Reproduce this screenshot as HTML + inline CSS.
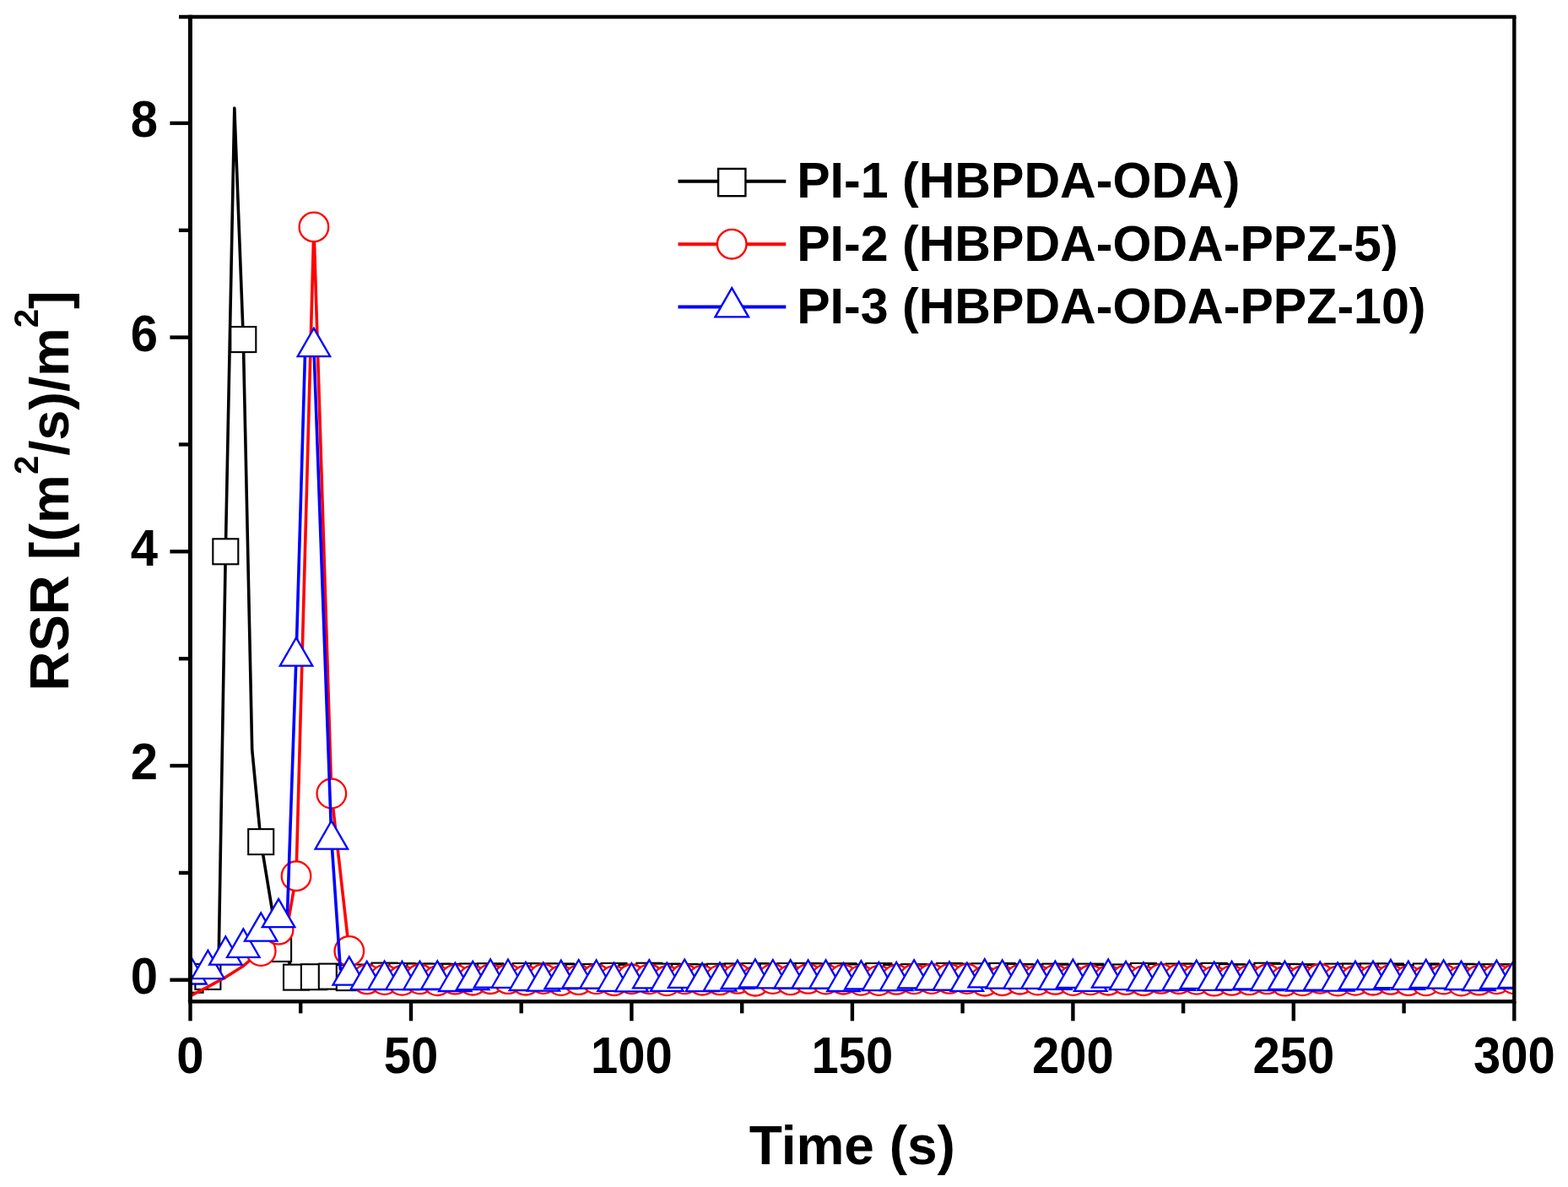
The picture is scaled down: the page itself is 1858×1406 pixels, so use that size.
<!DOCTYPE html>
<html><head><meta charset="utf-8"><title>RSR vs Time</title>
<style>
html,body{margin:0;padding:0;background:#fff;}
svg{display:block;}
</style></head>
<body>
<svg width="1858" height="1406" viewBox="0 0 1858 1406">
<defs><clipPath id="plotclip"><rect x="225.4" y="20.0" width="1568.9" height="1166.3"/></clipPath></defs>
<g>
<rect x="0" y="0" width="1858" height="1406" fill="#fff"/>
<g clip-path="url(#plotclip)">
<polyline points="225.5,1160.7 236.0,1160.7 246.4,1156.9 259.0,1145.5 267.3,653.3 277.8,128.1 288.3,402.1 298.7,888.0 309.2,997.1 319.6,1060.5 330.1,1123.9 340.5,1135.3 351.0,1157.6 361.5,1156.8 371.9,1157.2 382.4,1156.6 392.8,1156.6 403.3,1158.0 413.8,1158.1 424.2,1156.0 434.7,1157.5 445.1,1157.6 455.6,1155.6 466.0,1157.0 476.5,1156.0 487.0,1157.0 497.4,1156.5 507.9,1157.8 518.3,1156.6 528.8,1156.0 539.3,1156.8 549.7,1156.3 560.2,1156.5 570.6,1158.0 581.1,1156.2 591.6,1156.7 602.0,1157.4 612.5,1158.1 622.9,1156.0 633.4,1157.0 643.8,1156.3 654.3,1155.9 664.8,1156.4 675.2,1155.8 685.7,1157.2 696.1,1156.1 706.6,1157.0 717.1,1155.8 727.5,1155.9 738.0,1157.9 748.4,1157.8 758.9,1157.6 769.3,1155.7 779.8,1157.1 790.3,1156.6 800.7,1157.4 811.2,1156.9 821.6,1157.2 832.1,1157.3 842.6,1156.7 853.0,1156.7 863.5,1155.9 873.9,1156.4 884.4,1155.8 894.9,1156.0 905.3,1155.6 915.8,1156.5 926.2,1157.7 936.7,1156.0 947.1,1155.7 957.6,1155.9 968.1,1156.7 978.5,1156.4 989.0,1157.6 999.4,1156.1 1009.9,1156.7 1020.4,1157.4 1030.8,1158.0 1041.3,1156.0 1051.7,1155.7 1062.2,1157.9 1072.6,1156.1 1083.1,1157.1 1093.6,1157.8 1104.0,1157.4 1114.5,1156.2 1124.9,1155.9 1135.4,1158.1 1145.9,1156.6 1156.3,1158.0 1166.8,1156.3 1177.2,1157.3 1187.7,1155.9 1198.1,1155.7 1208.6,1156.9 1219.1,1155.6 1229.5,1157.4 1240.0,1158.0 1250.4,1156.6 1260.9,1158.1 1271.4,1157.7 1281.8,1157.1 1292.3,1156.6 1302.7,1157.8 1313.2,1158.1 1323.7,1156.0 1334.1,1157.4 1344.6,1155.7 1355.0,1155.9 1365.5,1157.2 1375.9,1157.0 1386.4,1156.8 1396.9,1156.5 1407.3,1156.7 1417.8,1156.7 1428.2,1156.6 1438.7,1155.8 1449.2,1156.9 1459.6,1157.1 1470.1,1156.3 1480.5,1157.6 1491.0,1157.4 1501.4,1155.7 1511.9,1156.8 1522.4,1156.8 1532.8,1158.1 1543.3,1157.1 1553.7,1156.7 1564.2,1158.1 1574.7,1156.6 1585.1,1156.6 1595.6,1158.0 1606.0,1156.6 1616.5,1157.0 1627.0,1156.4 1637.4,1157.3 1647.9,1156.4 1658.3,1156.3 1668.8,1158.1 1679.2,1158.0 1689.7,1156.4 1700.2,1155.7 1710.6,1157.5 1721.1,1157.0 1731.5,1156.7 1742.0,1157.4 1752.5,1157.2 1762.9,1157.4 1773.4,1157.2 1783.8,1156.7 1794.3,1157.4" fill="none" stroke="#000" stroke-width="3.6" stroke-linejoin="round"/>
<rect x="210.5" y="1145.7" width="30.0" height="30.0" fill="#fff" stroke="#000" stroke-width="2.1"/>
<rect x="231.4" y="1141.9" width="30.0" height="30.0" fill="#fff" stroke="#000" stroke-width="2.1"/>
<rect x="252.3" y="638.3" width="30.0" height="30.0" fill="#fff" stroke="#000" stroke-width="2.1"/>
<rect x="273.3" y="387.1" width="30.0" height="30.0" fill="#fff" stroke="#000" stroke-width="2.1"/>
<rect x="294.2" y="982.1" width="30.0" height="30.0" fill="#fff" stroke="#000" stroke-width="2.1"/>
<rect x="315.1" y="1108.9" width="30.0" height="30.0" fill="#fff" stroke="#000" stroke-width="2.1"/>
<rect x="336.0" y="1142.6" width="30.0" height="30.0" fill="#fff" stroke="#000" stroke-width="2.1"/>
<rect x="356.9" y="1142.2" width="30.0" height="30.0" fill="#fff" stroke="#000" stroke-width="2.1"/>
<rect x="377.8" y="1141.6" width="30.0" height="30.0" fill="#fff" stroke="#000" stroke-width="2.1"/>
<rect x="398.8" y="1143.1" width="30.0" height="30.0" fill="#fff" stroke="#000" stroke-width="2.1"/>
<rect x="419.7" y="1142.5" width="30.0" height="30.0" fill="#fff" stroke="#000" stroke-width="2.1"/>
<rect x="440.6" y="1140.6" width="30.0" height="30.0" fill="#fff" stroke="#000" stroke-width="2.1"/>
<rect x="461.5" y="1141.0" width="30.0" height="30.0" fill="#fff" stroke="#000" stroke-width="2.1"/>
<rect x="482.4" y="1141.5" width="30.0" height="30.0" fill="#fff" stroke="#000" stroke-width="2.1"/>
<rect x="503.3" y="1141.6" width="30.0" height="30.0" fill="#fff" stroke="#000" stroke-width="2.1"/>
<rect x="524.3" y="1141.8" width="30.0" height="30.0" fill="#fff" stroke="#000" stroke-width="2.1"/>
<rect x="545.2" y="1141.5" width="30.0" height="30.0" fill="#fff" stroke="#000" stroke-width="2.1"/>
<rect x="566.1" y="1141.2" width="30.0" height="30.0" fill="#fff" stroke="#000" stroke-width="2.1"/>
<rect x="587.0" y="1142.4" width="30.0" height="30.0" fill="#fff" stroke="#000" stroke-width="2.1"/>
<rect x="607.9" y="1141.0" width="30.0" height="30.0" fill="#fff" stroke="#000" stroke-width="2.1"/>
<rect x="628.8" y="1141.3" width="30.0" height="30.0" fill="#fff" stroke="#000" stroke-width="2.1"/>
<rect x="649.8" y="1141.4" width="30.0" height="30.0" fill="#fff" stroke="#000" stroke-width="2.1"/>
<rect x="670.7" y="1142.2" width="30.0" height="30.0" fill="#fff" stroke="#000" stroke-width="2.1"/>
<rect x="691.6" y="1142.0" width="30.0" height="30.0" fill="#fff" stroke="#000" stroke-width="2.1"/>
<rect x="712.5" y="1140.9" width="30.0" height="30.0" fill="#fff" stroke="#000" stroke-width="2.1"/>
<rect x="733.4" y="1142.8" width="30.0" height="30.0" fill="#fff" stroke="#000" stroke-width="2.1"/>
<rect x="754.3" y="1140.7" width="30.0" height="30.0" fill="#fff" stroke="#000" stroke-width="2.1"/>
<rect x="775.3" y="1141.6" width="30.0" height="30.0" fill="#fff" stroke="#000" stroke-width="2.1"/>
<rect x="796.2" y="1141.9" width="30.0" height="30.0" fill="#fff" stroke="#000" stroke-width="2.1"/>
<rect x="817.1" y="1142.3" width="30.0" height="30.0" fill="#fff" stroke="#000" stroke-width="2.1"/>
<rect x="838.0" y="1141.7" width="30.0" height="30.0" fill="#fff" stroke="#000" stroke-width="2.1"/>
<rect x="858.9" y="1141.4" width="30.0" height="30.0" fill="#fff" stroke="#000" stroke-width="2.1"/>
<rect x="879.9" y="1141.0" width="30.0" height="30.0" fill="#fff" stroke="#000" stroke-width="2.1"/>
<rect x="900.8" y="1141.5" width="30.0" height="30.0" fill="#fff" stroke="#000" stroke-width="2.1"/>
<rect x="921.7" y="1141.0" width="30.0" height="30.0" fill="#fff" stroke="#000" stroke-width="2.1"/>
<rect x="942.6" y="1140.9" width="30.0" height="30.0" fill="#fff" stroke="#000" stroke-width="2.1"/>
<rect x="963.5" y="1141.4" width="30.0" height="30.0" fill="#fff" stroke="#000" stroke-width="2.1"/>
<rect x="984.4" y="1141.1" width="30.0" height="30.0" fill="#fff" stroke="#000" stroke-width="2.1"/>
<rect x="1005.4" y="1142.4" width="30.0" height="30.0" fill="#fff" stroke="#000" stroke-width="2.1"/>
<rect x="1026.3" y="1141.0" width="30.0" height="30.0" fill="#fff" stroke="#000" stroke-width="2.1"/>
<rect x="1047.2" y="1142.9" width="30.0" height="30.0" fill="#fff" stroke="#000" stroke-width="2.1"/>
<rect x="1068.1" y="1142.1" width="30.0" height="30.0" fill="#fff" stroke="#000" stroke-width="2.1"/>
<rect x="1089.0" y="1142.4" width="30.0" height="30.0" fill="#fff" stroke="#000" stroke-width="2.1"/>
<rect x="1109.9" y="1140.9" width="30.0" height="30.0" fill="#fff" stroke="#000" stroke-width="2.1"/>
<rect x="1130.9" y="1141.6" width="30.0" height="30.0" fill="#fff" stroke="#000" stroke-width="2.1"/>
<rect x="1151.8" y="1141.3" width="30.0" height="30.0" fill="#fff" stroke="#000" stroke-width="2.1"/>
<rect x="1172.7" y="1140.9" width="30.0" height="30.0" fill="#fff" stroke="#000" stroke-width="2.1"/>
<rect x="1193.6" y="1141.9" width="30.0" height="30.0" fill="#fff" stroke="#000" stroke-width="2.1"/>
<rect x="1214.5" y="1142.4" width="30.0" height="30.0" fill="#fff" stroke="#000" stroke-width="2.1"/>
<rect x="1235.4" y="1141.6" width="30.0" height="30.0" fill="#fff" stroke="#000" stroke-width="2.1"/>
<rect x="1256.4" y="1142.7" width="30.0" height="30.0" fill="#fff" stroke="#000" stroke-width="2.1"/>
<rect x="1277.3" y="1141.6" width="30.0" height="30.0" fill="#fff" stroke="#000" stroke-width="2.1"/>
<rect x="1298.2" y="1143.1" width="30.0" height="30.0" fill="#fff" stroke="#000" stroke-width="2.1"/>
<rect x="1319.1" y="1142.4" width="30.0" height="30.0" fill="#fff" stroke="#000" stroke-width="2.1"/>
<rect x="1340.0" y="1140.9" width="30.0" height="30.0" fill="#fff" stroke="#000" stroke-width="2.1"/>
<rect x="1360.9" y="1142.0" width="30.0" height="30.0" fill="#fff" stroke="#000" stroke-width="2.1"/>
<rect x="1381.9" y="1141.5" width="30.0" height="30.0" fill="#fff" stroke="#000" stroke-width="2.1"/>
<rect x="1402.8" y="1141.7" width="30.0" height="30.0" fill="#fff" stroke="#000" stroke-width="2.1"/>
<rect x="1423.7" y="1140.8" width="30.0" height="30.0" fill="#fff" stroke="#000" stroke-width="2.1"/>
<rect x="1444.6" y="1142.1" width="30.0" height="30.0" fill="#fff" stroke="#000" stroke-width="2.1"/>
<rect x="1465.5" y="1142.6" width="30.0" height="30.0" fill="#fff" stroke="#000" stroke-width="2.1"/>
<rect x="1486.4" y="1140.7" width="30.0" height="30.0" fill="#fff" stroke="#000" stroke-width="2.1"/>
<rect x="1507.4" y="1141.8" width="30.0" height="30.0" fill="#fff" stroke="#000" stroke-width="2.1"/>
<rect x="1528.3" y="1142.1" width="30.0" height="30.0" fill="#fff" stroke="#000" stroke-width="2.1"/>
<rect x="1549.2" y="1143.1" width="30.0" height="30.0" fill="#fff" stroke="#000" stroke-width="2.1"/>
<rect x="1570.1" y="1141.6" width="30.0" height="30.0" fill="#fff" stroke="#000" stroke-width="2.1"/>
<rect x="1591.0" y="1141.6" width="30.0" height="30.0" fill="#fff" stroke="#000" stroke-width="2.1"/>
<rect x="1612.0" y="1141.4" width="30.0" height="30.0" fill="#fff" stroke="#000" stroke-width="2.1"/>
<rect x="1632.9" y="1141.4" width="30.0" height="30.0" fill="#fff" stroke="#000" stroke-width="2.1"/>
<rect x="1653.8" y="1143.1" width="30.0" height="30.0" fill="#fff" stroke="#000" stroke-width="2.1"/>
<rect x="1674.7" y="1141.4" width="30.0" height="30.0" fill="#fff" stroke="#000" stroke-width="2.1"/>
<rect x="1695.6" y="1142.5" width="30.0" height="30.0" fill="#fff" stroke="#000" stroke-width="2.1"/>
<rect x="1716.5" y="1141.7" width="30.0" height="30.0" fill="#fff" stroke="#000" stroke-width="2.1"/>
<rect x="1737.5" y="1142.2" width="30.0" height="30.0" fill="#fff" stroke="#000" stroke-width="2.1"/>
<rect x="1758.4" y="1142.2" width="30.0" height="30.0" fill="#fff" stroke="#000" stroke-width="2.1"/>
<rect x="1779.3" y="1142.4" width="30.0" height="30.0" fill="#fff" stroke="#000" stroke-width="2.1"/>
<polyline points="225.5,1179.7 246.4,1168.9 267.3,1157.5 288.3,1144.2 309.2,1126.5 330.1,1101.1 340.5,1097.3 351.0,1037.7 371.9,268.9 392.8,940.0 413.8,1126.5 424.2,1161.1 434.7,1159.9 445.1,1162.1 455.6,1160.5 466.0,1160.0 476.5,1161.3 487.0,1161.5 497.4,1159.8 507.9,1161.5 518.3,1161.7 528.8,1160.9 539.3,1160.1 549.7,1161.9 560.2,1161.2 570.6,1161.2 581.1,1159.7 591.6,1160.9 602.0,1159.6 612.5,1161.7 622.9,1161.2 633.4,1160.2 643.8,1159.5 654.3,1160.8 664.8,1161.5 675.2,1161.9 685.7,1160.6 696.1,1161.6 706.6,1159.8 717.1,1159.7 727.5,1161.7 738.0,1161.4 748.4,1159.8 758.9,1160.3 769.3,1159.8 779.8,1161.2 790.3,1161.8 800.7,1161.3 811.2,1159.8 821.6,1161.4 832.1,1161.2 842.6,1161.0 853.0,1160.9 863.5,1161.0 873.9,1159.4 884.4,1161.7 894.9,1162.2 905.3,1159.4 915.8,1159.5 926.2,1159.2 936.7,1160.9 947.1,1159.3 957.6,1159.4 968.1,1161.5 978.5,1160.0 989.0,1159.7 999.4,1160.2 1009.9,1160.6 1020.4,1161.3 1030.8,1161.2 1041.3,1161.5 1051.7,1162.0 1062.2,1160.4 1072.6,1161.3 1083.1,1159.8 1093.6,1162.1 1104.0,1159.5 1114.5,1160.1 1124.9,1159.4 1135.4,1159.5 1145.9,1159.5 1156.3,1160.5 1166.8,1162.2 1177.2,1160.0 1187.7,1161.7 1198.1,1161.3 1208.6,1160.2 1219.1,1160.6 1229.5,1161.0 1240.0,1159.4 1250.4,1160.4 1260.9,1161.2 1271.4,1161.5 1281.8,1159.6 1292.3,1160.8 1302.7,1159.8 1313.2,1161.2 1323.7,1161.6 1334.1,1160.6 1344.6,1159.7 1355.0,1161.7 1365.5,1159.8 1375.9,1159.4 1386.4,1159.8 1396.9,1159.7 1407.3,1162.2 1417.8,1160.3 1428.2,1159.6 1438.7,1162.1 1449.2,1161.4 1459.6,1161.4 1470.1,1160.6 1480.5,1160.9 1491.0,1160.8 1501.4,1159.9 1511.9,1162.2 1522.4,1162.1 1532.8,1161.8 1543.3,1161.8 1553.7,1162.0 1564.2,1159.3 1574.7,1159.6 1585.1,1162.0 1595.6,1160.7 1606.0,1161.3 1616.5,1161.3 1627.0,1161.2 1637.4,1160.3 1647.9,1160.4 1658.3,1161.1 1668.8,1161.6 1679.2,1161.2 1689.7,1161.8 1700.2,1160.5 1710.6,1160.0 1721.1,1161.1 1731.5,1162.0 1742.0,1161.7 1752.5,1161.1 1762.9,1160.4 1773.4,1159.8 1783.8,1161.1 1794.3,1159.8" fill="none" stroke="#f00" stroke-width="3.6" stroke-linejoin="round"/>
<circle cx="309.2" cy="1126.5" r="17.3" fill="#fff" stroke="#f00" stroke-width="2.3"/>
<circle cx="330.1" cy="1101.1" r="17.3" fill="#fff" stroke="#f00" stroke-width="2.3"/>
<circle cx="351.0" cy="1037.7" r="17.3" fill="#fff" stroke="#f00" stroke-width="2.3"/>
<circle cx="371.9" cy="268.9" r="17.3" fill="#fff" stroke="#f00" stroke-width="2.3"/>
<circle cx="392.8" cy="940.0" r="17.3" fill="#fff" stroke="#f00" stroke-width="2.3"/>
<circle cx="413.8" cy="1126.5" r="17.3" fill="#fff" stroke="#f00" stroke-width="2.3"/>
<circle cx="434.7" cy="1159.9" r="17.3" fill="#fff" stroke="#f00" stroke-width="2.3"/>
<circle cx="455.6" cy="1160.5" r="17.3" fill="#fff" stroke="#f00" stroke-width="2.3"/>
<circle cx="476.5" cy="1161.3" r="17.3" fill="#fff" stroke="#f00" stroke-width="2.3"/>
<circle cx="497.4" cy="1159.8" r="17.3" fill="#fff" stroke="#f00" stroke-width="2.3"/>
<circle cx="518.3" cy="1161.7" r="17.3" fill="#fff" stroke="#f00" stroke-width="2.3"/>
<circle cx="539.3" cy="1160.1" r="17.3" fill="#fff" stroke="#f00" stroke-width="2.3"/>
<circle cx="560.2" cy="1161.2" r="17.3" fill="#fff" stroke="#f00" stroke-width="2.3"/>
<circle cx="581.1" cy="1159.7" r="17.3" fill="#fff" stroke="#f00" stroke-width="2.3"/>
<circle cx="602.0" cy="1159.6" r="17.3" fill="#fff" stroke="#f00" stroke-width="2.3"/>
<circle cx="622.9" cy="1161.2" r="17.3" fill="#fff" stroke="#f00" stroke-width="2.3"/>
<circle cx="643.8" cy="1159.5" r="17.3" fill="#fff" stroke="#f00" stroke-width="2.3"/>
<circle cx="664.8" cy="1161.5" r="17.3" fill="#fff" stroke="#f00" stroke-width="2.3"/>
<circle cx="685.7" cy="1160.6" r="17.3" fill="#fff" stroke="#f00" stroke-width="2.3"/>
<circle cx="706.6" cy="1159.8" r="17.3" fill="#fff" stroke="#f00" stroke-width="2.3"/>
<circle cx="727.5" cy="1161.7" r="17.3" fill="#fff" stroke="#f00" stroke-width="2.3"/>
<circle cx="748.4" cy="1159.8" r="17.3" fill="#fff" stroke="#f00" stroke-width="2.3"/>
<circle cx="769.3" cy="1159.8" r="17.3" fill="#fff" stroke="#f00" stroke-width="2.3"/>
<circle cx="790.3" cy="1161.8" r="17.3" fill="#fff" stroke="#f00" stroke-width="2.3"/>
<circle cx="811.2" cy="1159.8" r="17.3" fill="#fff" stroke="#f00" stroke-width="2.3"/>
<circle cx="832.1" cy="1161.2" r="17.3" fill="#fff" stroke="#f00" stroke-width="2.3"/>
<circle cx="853.0" cy="1160.9" r="17.3" fill="#fff" stroke="#f00" stroke-width="2.3"/>
<circle cx="873.9" cy="1159.4" r="17.3" fill="#fff" stroke="#f00" stroke-width="2.3"/>
<circle cx="894.9" cy="1162.2" r="17.3" fill="#fff" stroke="#f00" stroke-width="2.3"/>
<circle cx="915.8" cy="1159.5" r="17.3" fill="#fff" stroke="#f00" stroke-width="2.3"/>
<circle cx="936.7" cy="1160.9" r="17.3" fill="#fff" stroke="#f00" stroke-width="2.3"/>
<circle cx="957.6" cy="1159.4" r="17.3" fill="#fff" stroke="#f00" stroke-width="2.3"/>
<circle cx="978.5" cy="1160.0" r="17.3" fill="#fff" stroke="#f00" stroke-width="2.3"/>
<circle cx="999.4" cy="1160.2" r="17.3" fill="#fff" stroke="#f00" stroke-width="2.3"/>
<circle cx="1020.4" cy="1161.3" r="17.3" fill="#fff" stroke="#f00" stroke-width="2.3"/>
<circle cx="1041.3" cy="1161.5" r="17.3" fill="#fff" stroke="#f00" stroke-width="2.3"/>
<circle cx="1062.2" cy="1160.4" r="17.3" fill="#fff" stroke="#f00" stroke-width="2.3"/>
<circle cx="1083.1" cy="1159.8" r="17.3" fill="#fff" stroke="#f00" stroke-width="2.3"/>
<circle cx="1104.0" cy="1159.5" r="17.3" fill="#fff" stroke="#f00" stroke-width="2.3"/>
<circle cx="1124.9" cy="1159.4" r="17.3" fill="#fff" stroke="#f00" stroke-width="2.3"/>
<circle cx="1145.9" cy="1159.5" r="17.3" fill="#fff" stroke="#f00" stroke-width="2.3"/>
<circle cx="1166.8" cy="1162.2" r="17.3" fill="#fff" stroke="#f00" stroke-width="2.3"/>
<circle cx="1187.7" cy="1161.7" r="17.3" fill="#fff" stroke="#f00" stroke-width="2.3"/>
<circle cx="1208.6" cy="1160.2" r="17.3" fill="#fff" stroke="#f00" stroke-width="2.3"/>
<circle cx="1229.5" cy="1161.0" r="17.3" fill="#fff" stroke="#f00" stroke-width="2.3"/>
<circle cx="1250.4" cy="1160.4" r="17.3" fill="#fff" stroke="#f00" stroke-width="2.3"/>
<circle cx="1271.4" cy="1161.5" r="17.3" fill="#fff" stroke="#f00" stroke-width="2.3"/>
<circle cx="1292.3" cy="1160.8" r="17.3" fill="#fff" stroke="#f00" stroke-width="2.3"/>
<circle cx="1313.2" cy="1161.2" r="17.3" fill="#fff" stroke="#f00" stroke-width="2.3"/>
<circle cx="1334.1" cy="1160.6" r="17.3" fill="#fff" stroke="#f00" stroke-width="2.3"/>
<circle cx="1355.0" cy="1161.7" r="17.3" fill="#fff" stroke="#f00" stroke-width="2.3"/>
<circle cx="1375.9" cy="1159.4" r="17.3" fill="#fff" stroke="#f00" stroke-width="2.3"/>
<circle cx="1396.9" cy="1159.7" r="17.3" fill="#fff" stroke="#f00" stroke-width="2.3"/>
<circle cx="1417.8" cy="1160.3" r="17.3" fill="#fff" stroke="#f00" stroke-width="2.3"/>
<circle cx="1438.7" cy="1162.1" r="17.3" fill="#fff" stroke="#f00" stroke-width="2.3"/>
<circle cx="1459.6" cy="1161.4" r="17.3" fill="#fff" stroke="#f00" stroke-width="2.3"/>
<circle cx="1480.5" cy="1160.9" r="17.3" fill="#fff" stroke="#f00" stroke-width="2.3"/>
<circle cx="1501.4" cy="1159.9" r="17.3" fill="#fff" stroke="#f00" stroke-width="2.3"/>
<circle cx="1522.4" cy="1162.1" r="17.3" fill="#fff" stroke="#f00" stroke-width="2.3"/>
<circle cx="1543.3" cy="1161.8" r="17.3" fill="#fff" stroke="#f00" stroke-width="2.3"/>
<circle cx="1564.2" cy="1159.3" r="17.3" fill="#fff" stroke="#f00" stroke-width="2.3"/>
<circle cx="1585.1" cy="1162.0" r="17.3" fill="#fff" stroke="#f00" stroke-width="2.3"/>
<circle cx="1606.0" cy="1161.3" r="17.3" fill="#fff" stroke="#f00" stroke-width="2.3"/>
<circle cx="1627.0" cy="1161.2" r="17.3" fill="#fff" stroke="#f00" stroke-width="2.3"/>
<circle cx="1647.9" cy="1160.4" r="17.3" fill="#fff" stroke="#f00" stroke-width="2.3"/>
<circle cx="1668.8" cy="1161.6" r="17.3" fill="#fff" stroke="#f00" stroke-width="2.3"/>
<circle cx="1689.7" cy="1161.8" r="17.3" fill="#fff" stroke="#f00" stroke-width="2.3"/>
<circle cx="1710.6" cy="1160.0" r="17.3" fill="#fff" stroke="#f00" stroke-width="2.3"/>
<circle cx="1731.5" cy="1162.0" r="17.3" fill="#fff" stroke="#f00" stroke-width="2.3"/>
<circle cx="1752.5" cy="1161.1" r="17.3" fill="#fff" stroke="#f00" stroke-width="2.3"/>
<circle cx="1773.4" cy="1159.8" r="17.3" fill="#fff" stroke="#f00" stroke-width="2.3"/>
<circle cx="1794.3" cy="1159.8" r="17.3" fill="#fff" stroke="#f00" stroke-width="2.3"/>
<polyline points="225.5,1154.4 236.0,1151.8 246.4,1148.0 256.9,1139.1 267.3,1131.5 277.8,1126.5 288.3,1122.6 298.7,1112.5 309.2,1103.6 319.6,1094.7 330.1,1087.1 340.5,1082.1 351.0,777.6 361.5,418.6 371.9,411.0 382.4,704.0 392.8,994.5 403.3,1148.0 413.8,1155.6 424.2,1160.1 434.7,1161.0 445.1,1161.3 455.6,1160.7 466.0,1159.7 476.5,1161.1 487.0,1159.7 497.4,1160.9 507.9,1162.0 518.3,1160.5 528.8,1159.7 539.3,1162.9 549.7,1161.1 560.2,1161.1 570.6,1158.8 581.1,1158.5 591.6,1161.3 602.0,1158.7 612.5,1159.2 622.9,1161.9 633.4,1160.9 643.8,1162.6 654.3,1159.1 664.8,1159.9 675.2,1158.7 685.7,1159.2 696.1,1159.8 706.6,1159.5 717.1,1160.4 727.5,1162.7 738.0,1160.3 748.4,1163.2 758.9,1162.5 769.3,1159.3 779.8,1163.0 790.3,1162.8 800.7,1162.7 811.2,1158.8 821.6,1162.3 832.1,1163.1 842.6,1159.0 853.0,1162.6 863.5,1159.0 873.9,1159.8 884.4,1159.0 894.9,1158.4 905.3,1160.3 915.8,1159.2 926.2,1163.1 936.7,1159.3 947.1,1160.6 957.6,1159.6 968.1,1162.7 978.5,1159.4 989.0,1158.5 999.4,1162.9 1009.9,1161.6 1020.4,1160.4 1030.8,1159.0 1041.3,1162.0 1051.7,1162.3 1062.2,1162.0 1072.6,1160.1 1083.1,1159.4 1093.6,1161.2 1104.0,1161.4 1114.5,1161.2 1124.9,1161.5 1135.4,1161.1 1145.9,1162.8 1156.3,1160.7 1166.8,1158.3 1177.2,1161.1 1187.7,1159.4 1198.1,1162.4 1208.6,1159.7 1219.1,1159.4 1229.5,1159.8 1240.0,1160.6 1250.4,1160.8 1260.9,1160.0 1271.4,1158.7 1281.8,1162.5 1292.3,1162.8 1302.7,1159.4 1313.2,1158.6 1323.7,1160.6 1334.1,1161.0 1344.6,1159.6 1355.0,1162.3 1365.5,1161.9 1375.9,1162.2 1386.4,1160.3 1396.9,1161.6 1407.3,1162.1 1417.8,1159.7 1428.2,1158.4 1438.7,1161.7 1449.2,1159.7 1459.6,1161.1 1470.1,1158.9 1480.5,1160.3 1491.0,1161.9 1501.4,1162.1 1511.9,1163.1 1522.4,1160.8 1532.8,1161.3 1543.3,1162.4 1553.7,1161.4 1564.2,1161.6 1574.7,1159.3 1585.1,1162.5 1595.6,1158.2 1606.0,1160.8 1616.5,1160.2 1627.0,1160.9 1637.4,1159.0 1647.9,1159.1 1658.3,1160.4 1668.8,1160.8 1679.2,1159.6 1689.7,1158.9 1700.2,1161.2 1710.6,1159.5 1721.1,1158.4 1731.5,1160.9 1742.0,1162.1 1752.5,1162.0 1762.9,1159.6 1773.4,1159.8 1783.8,1158.4 1794.3,1158.9" fill="none" stroke="#00f" stroke-width="3.6" stroke-linejoin="round"/>
<path d="M225.5,1132.1L244.8,1165.5L206.2,1165.5Z" fill="#fff" stroke="#00f" stroke-width="2.3" stroke-linejoin="miter"/>
<path d="M246.4,1125.8L265.7,1159.1L227.2,1159.1Z" fill="#fff" stroke="#00f" stroke-width="2.3" stroke-linejoin="miter"/>
<path d="M267.3,1109.3L286.6,1142.6L248.1,1142.6Z" fill="#fff" stroke="#00f" stroke-width="2.3" stroke-linejoin="miter"/>
<path d="M288.3,1100.4L307.5,1133.8L269.0,1133.8Z" fill="#fff" stroke="#00f" stroke-width="2.3" stroke-linejoin="miter"/>
<path d="M309.2,1081.4L328.4,1114.7L289.9,1114.7Z" fill="#fff" stroke="#00f" stroke-width="2.3" stroke-linejoin="miter"/>
<path d="M330.1,1064.9L349.3,1098.2L310.8,1098.2Z" fill="#fff" stroke="#00f" stroke-width="2.3" stroke-linejoin="miter"/>
<path d="M351.0,755.4L370.3,788.7L331.8,788.7Z" fill="#fff" stroke="#00f" stroke-width="2.3" stroke-linejoin="miter"/>
<path d="M371.9,388.8L391.2,422.1L352.7,422.1Z" fill="#fff" stroke="#00f" stroke-width="2.3" stroke-linejoin="miter"/>
<path d="M392.8,972.3L412.1,1005.6L373.6,1005.6Z" fill="#fff" stroke="#00f" stroke-width="2.3" stroke-linejoin="miter"/>
<path d="M413.8,1133.4L433.0,1166.7L394.5,1166.7Z" fill="#fff" stroke="#00f" stroke-width="2.3" stroke-linejoin="miter"/>
<path d="M434.7,1138.8L453.9,1172.2L415.4,1172.2Z" fill="#fff" stroke="#00f" stroke-width="2.3" stroke-linejoin="miter"/>
<path d="M455.6,1138.5L474.8,1171.8L436.3,1171.8Z" fill="#fff" stroke="#00f" stroke-width="2.3" stroke-linejoin="miter"/>
<path d="M476.5,1138.9L495.8,1172.2L457.3,1172.2Z" fill="#fff" stroke="#00f" stroke-width="2.3" stroke-linejoin="miter"/>
<path d="M497.4,1138.7L516.7,1172.0L478.2,1172.0Z" fill="#fff" stroke="#00f" stroke-width="2.3" stroke-linejoin="miter"/>
<path d="M518.3,1138.3L537.6,1171.6L499.1,1171.6Z" fill="#fff" stroke="#00f" stroke-width="2.3" stroke-linejoin="miter"/>
<path d="M539.3,1140.6L558.5,1174.0L520.0,1174.0Z" fill="#fff" stroke="#00f" stroke-width="2.3" stroke-linejoin="miter"/>
<path d="M560.2,1138.8L579.4,1172.2L540.9,1172.2Z" fill="#fff" stroke="#00f" stroke-width="2.3" stroke-linejoin="miter"/>
<path d="M581.1,1136.3L600.3,1169.6L561.8,1169.6Z" fill="#fff" stroke="#00f" stroke-width="2.3" stroke-linejoin="miter"/>
<path d="M602.0,1136.5L621.3,1169.8L582.8,1169.8Z" fill="#fff" stroke="#00f" stroke-width="2.3" stroke-linejoin="miter"/>
<path d="M622.9,1139.7L642.2,1173.0L603.7,1173.0Z" fill="#fff" stroke="#00f" stroke-width="2.3" stroke-linejoin="miter"/>
<path d="M643.8,1140.4L663.1,1173.7L624.6,1173.7Z" fill="#fff" stroke="#00f" stroke-width="2.3" stroke-linejoin="miter"/>
<path d="M664.8,1137.6L684.0,1171.0L645.5,1171.0Z" fill="#fff" stroke="#00f" stroke-width="2.3" stroke-linejoin="miter"/>
<path d="M685.7,1137.0L704.9,1170.3L666.4,1170.3Z" fill="#fff" stroke="#00f" stroke-width="2.3" stroke-linejoin="miter"/>
<path d="M706.6,1137.3L725.8,1170.6L687.3,1170.6Z" fill="#fff" stroke="#00f" stroke-width="2.3" stroke-linejoin="miter"/>
<path d="M727.5,1140.5L746.8,1173.8L708.3,1173.8Z" fill="#fff" stroke="#00f" stroke-width="2.3" stroke-linejoin="miter"/>
<path d="M748.4,1141.0L767.7,1174.3L729.2,1174.3Z" fill="#fff" stroke="#00f" stroke-width="2.3" stroke-linejoin="miter"/>
<path d="M769.3,1137.1L788.6,1170.4L750.1,1170.4Z" fill="#fff" stroke="#00f" stroke-width="2.3" stroke-linejoin="miter"/>
<path d="M790.3,1140.5L809.5,1173.9L771.0,1173.9Z" fill="#fff" stroke="#00f" stroke-width="2.3" stroke-linejoin="miter"/>
<path d="M811.2,1136.5L830.4,1169.9L791.9,1169.9Z" fill="#fff" stroke="#00f" stroke-width="2.3" stroke-linejoin="miter"/>
<path d="M832.1,1140.9L851.3,1174.2L812.8,1174.2Z" fill="#fff" stroke="#00f" stroke-width="2.3" stroke-linejoin="miter"/>
<path d="M853.0,1140.4L872.3,1173.7L833.8,1173.7Z" fill="#fff" stroke="#00f" stroke-width="2.3" stroke-linejoin="miter"/>
<path d="M873.9,1137.6L893.2,1170.9L854.7,1170.9Z" fill="#fff" stroke="#00f" stroke-width="2.3" stroke-linejoin="miter"/>
<path d="M894.9,1136.2L914.1,1169.5L875.6,1169.5Z" fill="#fff" stroke="#00f" stroke-width="2.3" stroke-linejoin="miter"/>
<path d="M915.8,1137.0L935.0,1170.3L896.5,1170.3Z" fill="#fff" stroke="#00f" stroke-width="2.3" stroke-linejoin="miter"/>
<path d="M936.7,1137.1L955.9,1170.5L917.4,1170.5Z" fill="#fff" stroke="#00f" stroke-width="2.3" stroke-linejoin="miter"/>
<path d="M957.6,1137.4L976.9,1170.7L938.4,1170.7Z" fill="#fff" stroke="#00f" stroke-width="2.3" stroke-linejoin="miter"/>
<path d="M978.5,1137.2L997.8,1170.6L959.3,1170.6Z" fill="#fff" stroke="#00f" stroke-width="2.3" stroke-linejoin="miter"/>
<path d="M999.4,1140.7L1018.7,1174.0L980.2,1174.0Z" fill="#fff" stroke="#00f" stroke-width="2.3" stroke-linejoin="miter"/>
<path d="M1020.4,1138.1L1039.6,1171.5L1001.1,1171.5Z" fill="#fff" stroke="#00f" stroke-width="2.3" stroke-linejoin="miter"/>
<path d="M1041.3,1139.8L1060.5,1173.1L1022.0,1173.1Z" fill="#fff" stroke="#00f" stroke-width="2.3" stroke-linejoin="miter"/>
<path d="M1062.2,1139.7L1081.4,1173.1L1042.9,1173.1Z" fill="#fff" stroke="#00f" stroke-width="2.3" stroke-linejoin="miter"/>
<path d="M1083.1,1137.2L1102.4,1170.5L1063.9,1170.5Z" fill="#fff" stroke="#00f" stroke-width="2.3" stroke-linejoin="miter"/>
<path d="M1104.0,1139.1L1123.3,1172.5L1084.8,1172.5Z" fill="#fff" stroke="#00f" stroke-width="2.3" stroke-linejoin="miter"/>
<path d="M1124.9,1139.2L1144.2,1172.6L1105.7,1172.6Z" fill="#fff" stroke="#00f" stroke-width="2.3" stroke-linejoin="miter"/>
<path d="M1145.9,1140.6L1165.1,1173.9L1126.6,1173.9Z" fill="#fff" stroke="#00f" stroke-width="2.3" stroke-linejoin="miter"/>
<path d="M1166.8,1136.1L1186.0,1169.4L1147.5,1169.4Z" fill="#fff" stroke="#00f" stroke-width="2.3" stroke-linejoin="miter"/>
<path d="M1187.7,1137.2L1206.9,1170.6L1168.4,1170.6Z" fill="#fff" stroke="#00f" stroke-width="2.3" stroke-linejoin="miter"/>
<path d="M1208.6,1137.5L1227.9,1170.8L1189.4,1170.8Z" fill="#fff" stroke="#00f" stroke-width="2.3" stroke-linejoin="miter"/>
<path d="M1229.5,1137.6L1248.8,1170.9L1210.3,1170.9Z" fill="#fff" stroke="#00f" stroke-width="2.3" stroke-linejoin="miter"/>
<path d="M1250.4,1138.6L1269.7,1171.9L1231.2,1171.9Z" fill="#fff" stroke="#00f" stroke-width="2.3" stroke-linejoin="miter"/>
<path d="M1271.4,1136.5L1290.6,1169.8L1252.1,1169.8Z" fill="#fff" stroke="#00f" stroke-width="2.3" stroke-linejoin="miter"/>
<path d="M1292.3,1140.5L1311.5,1173.9L1273.0,1173.9Z" fill="#fff" stroke="#00f" stroke-width="2.3" stroke-linejoin="miter"/>
<path d="M1313.2,1136.4L1332.4,1169.7L1293.9,1169.7Z" fill="#fff" stroke="#00f" stroke-width="2.3" stroke-linejoin="miter"/>
<path d="M1334.1,1138.8L1353.4,1172.1L1314.9,1172.1Z" fill="#fff" stroke="#00f" stroke-width="2.3" stroke-linejoin="miter"/>
<path d="M1355.0,1140.1L1374.3,1173.4L1335.8,1173.4Z" fill="#fff" stroke="#00f" stroke-width="2.3" stroke-linejoin="miter"/>
<path d="M1375.9,1140.0L1395.2,1173.3L1356.7,1173.3Z" fill="#fff" stroke="#00f" stroke-width="2.3" stroke-linejoin="miter"/>
<path d="M1396.9,1139.4L1416.1,1172.8L1377.6,1172.8Z" fill="#fff" stroke="#00f" stroke-width="2.3" stroke-linejoin="miter"/>
<path d="M1417.8,1137.5L1437.0,1170.8L1398.5,1170.8Z" fill="#fff" stroke="#00f" stroke-width="2.3" stroke-linejoin="miter"/>
<path d="M1438.7,1139.5L1457.9,1172.8L1419.4,1172.8Z" fill="#fff" stroke="#00f" stroke-width="2.3" stroke-linejoin="miter"/>
<path d="M1459.6,1138.9L1478.9,1172.3L1440.4,1172.3Z" fill="#fff" stroke="#00f" stroke-width="2.3" stroke-linejoin="miter"/>
<path d="M1480.5,1138.0L1499.8,1171.4L1461.3,1171.4Z" fill="#fff" stroke="#00f" stroke-width="2.3" stroke-linejoin="miter"/>
<path d="M1501.4,1139.9L1520.7,1173.2L1482.2,1173.2Z" fill="#fff" stroke="#00f" stroke-width="2.3" stroke-linejoin="miter"/>
<path d="M1522.4,1138.6L1541.6,1171.9L1503.1,1171.9Z" fill="#fff" stroke="#00f" stroke-width="2.3" stroke-linejoin="miter"/>
<path d="M1543.3,1140.1L1562.5,1173.5L1524.0,1173.5Z" fill="#fff" stroke="#00f" stroke-width="2.3" stroke-linejoin="miter"/>
<path d="M1564.2,1139.4L1583.5,1172.7L1545.0,1172.7Z" fill="#fff" stroke="#00f" stroke-width="2.3" stroke-linejoin="miter"/>
<path d="M1585.1,1140.3L1604.4,1173.6L1565.9,1173.6Z" fill="#fff" stroke="#00f" stroke-width="2.3" stroke-linejoin="miter"/>
<path d="M1606.0,1138.6L1625.3,1171.9L1586.8,1171.9Z" fill="#fff" stroke="#00f" stroke-width="2.3" stroke-linejoin="miter"/>
<path d="M1627.0,1138.6L1646.2,1172.0L1607.7,1172.0Z" fill="#fff" stroke="#00f" stroke-width="2.3" stroke-linejoin="miter"/>
<path d="M1647.9,1136.8L1667.1,1170.2L1628.6,1170.2Z" fill="#fff" stroke="#00f" stroke-width="2.3" stroke-linejoin="miter"/>
<path d="M1668.8,1138.6L1688.0,1171.9L1649.5,1171.9Z" fill="#fff" stroke="#00f" stroke-width="2.3" stroke-linejoin="miter"/>
<path d="M1689.7,1136.7L1709.0,1170.0L1670.5,1170.0Z" fill="#fff" stroke="#00f" stroke-width="2.3" stroke-linejoin="miter"/>
<path d="M1710.6,1137.3L1729.9,1170.6L1691.4,1170.6Z" fill="#fff" stroke="#00f" stroke-width="2.3" stroke-linejoin="miter"/>
<path d="M1731.5,1138.6L1750.8,1172.0L1712.3,1172.0Z" fill="#fff" stroke="#00f" stroke-width="2.3" stroke-linejoin="miter"/>
<path d="M1752.5,1139.8L1771.7,1173.2L1733.2,1173.2Z" fill="#fff" stroke="#00f" stroke-width="2.3" stroke-linejoin="miter"/>
<path d="M1773.4,1137.6L1792.6,1170.9L1754.1,1170.9Z" fill="#fff" stroke="#00f" stroke-width="2.3" stroke-linejoin="miter"/>
<path d="M1794.3,1136.7L1813.5,1170.0L1775.0,1170.0Z" fill="#fff" stroke="#00f" stroke-width="2.3" stroke-linejoin="miter"/>
</g>
<path d="M225.4,1186.3 L225.4,17.7" stroke="#000" stroke-width="5" fill="none"/>
<path d="M212,20.0 L1796.5,20.0" stroke="#000" stroke-width="4.3" fill="none"/>
<path d="M1794.3,20.0 L1794.3,1188.6" stroke="#000" stroke-width="4.4" fill="none"/>
<path d="M222.9,1186.3 L1794.3,1186.3" stroke="#000" stroke-width="4.5" fill="none"/>
<line x1="225.5" y1="1186.3" x2="225.5" y2="1209.3" stroke="#000" stroke-width="4.4"/>
<line x1="356.2" y1="1186.3" x2="356.2" y2="1200.3" stroke="#000" stroke-width="4.4"/>
<line x1="487.0" y1="1186.3" x2="487.0" y2="1209.3" stroke="#000" stroke-width="4.4"/>
<line x1="617.7" y1="1186.3" x2="617.7" y2="1200.3" stroke="#000" stroke-width="4.4"/>
<line x1="748.4" y1="1186.3" x2="748.4" y2="1209.3" stroke="#000" stroke-width="4.4"/>
<line x1="879.2" y1="1186.3" x2="879.2" y2="1200.3" stroke="#000" stroke-width="4.4"/>
<line x1="1009.9" y1="1186.3" x2="1009.9" y2="1209.3" stroke="#000" stroke-width="4.4"/>
<line x1="1140.6" y1="1186.3" x2="1140.6" y2="1200.3" stroke="#000" stroke-width="4.4"/>
<line x1="1271.4" y1="1186.3" x2="1271.4" y2="1209.3" stroke="#000" stroke-width="4.4"/>
<line x1="1402.1" y1="1186.3" x2="1402.1" y2="1200.3" stroke="#000" stroke-width="4.4"/>
<line x1="1532.8" y1="1186.3" x2="1532.8" y2="1209.3" stroke="#000" stroke-width="4.4"/>
<line x1="1663.6" y1="1186.3" x2="1663.6" y2="1200.3" stroke="#000" stroke-width="4.4"/>
<line x1="1794.3" y1="1186.3" x2="1794.3" y2="1209.3" stroke="#000" stroke-width="4.4"/>
<line x1="225.4" y1="1160.7" x2="201.4" y2="1160.7" stroke="#000" stroke-width="4.4"/>
<line x1="225.4" y1="1033.9" x2="211.9" y2="1033.9" stroke="#000" stroke-width="4.4"/>
<line x1="225.4" y1="907.0" x2="201.4" y2="907.0" stroke="#000" stroke-width="4.4"/>
<line x1="225.4" y1="780.2" x2="211.9" y2="780.2" stroke="#000" stroke-width="4.4"/>
<line x1="225.4" y1="653.3" x2="201.4" y2="653.3" stroke="#000" stroke-width="4.4"/>
<line x1="225.4" y1="526.5" x2="211.9" y2="526.5" stroke="#000" stroke-width="4.4"/>
<line x1="225.4" y1="399.6" x2="201.4" y2="399.6" stroke="#000" stroke-width="4.4"/>
<line x1="225.4" y1="272.8" x2="211.9" y2="272.8" stroke="#000" stroke-width="4.4"/>
<line x1="225.4" y1="145.9" x2="201.4" y2="145.9" stroke="#000" stroke-width="4.4"/>
<text transform="translate(225.5,1250.2) scale(1,1.04)" x="0" y="20.3" font-family="Liberation Sans, Arial, sans-serif" font-weight="bold" font-size="58" text-anchor="middle">0</text>
<text transform="translate(487.0,1250.2) scale(1,1.04)" x="0" y="20.3" font-family="Liberation Sans, Arial, sans-serif" font-weight="bold" font-size="58" text-anchor="middle">50</text>
<text transform="translate(748.4,1250.2) scale(1,1.04)" x="0" y="20.3" font-family="Liberation Sans, Arial, sans-serif" font-weight="bold" font-size="58" text-anchor="middle">100</text>
<text transform="translate(1009.9,1250.2) scale(1,1.04)" x="0" y="20.3" font-family="Liberation Sans, Arial, sans-serif" font-weight="bold" font-size="58" text-anchor="middle">150</text>
<text transform="translate(1271.4,1250.2) scale(1,1.04)" x="0" y="20.3" font-family="Liberation Sans, Arial, sans-serif" font-weight="bold" font-size="58" text-anchor="middle">200</text>
<text transform="translate(1532.8,1250.2) scale(1,1.04)" x="0" y="20.3" font-family="Liberation Sans, Arial, sans-serif" font-weight="bold" font-size="58" text-anchor="middle">250</text>
<text transform="translate(1794.3,1250.2) scale(1,1.04)" x="0" y="20.3" font-family="Liberation Sans, Arial, sans-serif" font-weight="bold" font-size="58" text-anchor="middle">300</text>
<text transform="translate(187,1155.8) scale(1,1.04)" x="0" y="20.3" font-family="Liberation Sans, Arial, sans-serif" font-weight="bold" font-size="58" text-anchor="end">0</text>
<text transform="translate(187,902.1) scale(1,1.04)" x="0" y="20.3" font-family="Liberation Sans, Arial, sans-serif" font-weight="bold" font-size="58" text-anchor="end">2</text>
<text transform="translate(187,648.4) scale(1,1.04)" x="0" y="20.3" font-family="Liberation Sans, Arial, sans-serif" font-weight="bold" font-size="58" text-anchor="end">4</text>
<text transform="translate(187,394.7) scale(1,1.04)" x="0" y="20.3" font-family="Liberation Sans, Arial, sans-serif" font-weight="bold" font-size="58" text-anchor="end">6</text>
<text transform="translate(187,141.0) scale(1,1.04)" x="0" y="20.3" font-family="Liberation Sans, Arial, sans-serif" font-weight="bold" font-size="58" text-anchor="end">8</text>
<text x="1009.8" y="1378.5" font-family="Liberation Sans, Arial, sans-serif" font-weight="bold" font-size="64" text-anchor="middle">Time (s)</text>
<text transform="translate(81,818.5) rotate(-90)" x="0" y="0" font-family="Liberation Sans, Arial, sans-serif" font-weight="bold" font-size="65">RSR [(m<tspan font-size="40" dy="-36">2</tspan><tspan dy="36">/s)/m</tspan><tspan font-size="40" dy="-36">2</tspan><tspan dy="36">]</tspan></text>
<line x1="803.5" y1="214.8" x2="931.3" y2="214.8" stroke="#000" stroke-width="4"/>
<rect x="851.1" y="199.9" width="32.3" height="32.3" fill="#fff" stroke="#000" stroke-width="2.4"/>
<text x="944.2" y="234.0" font-family="Liberation Sans, Arial, sans-serif" font-weight="bold" font-size="59.1">PI-1 (HBPDA-ODA)</text>
<line x1="803.5" y1="289.2" x2="931.3" y2="289.2" stroke="#f00" stroke-width="4"/>
<circle cx="867.2" cy="289.2" r="17.3" fill="#fff" stroke="#f00" stroke-width="2.4"/>
<text x="944.2" y="308.6" font-family="Liberation Sans, Arial, sans-serif" font-weight="bold" font-size="59.1">PI-2 (HBPDA-ODA-PPZ-5)</text>
<line x1="803.5" y1="363.4" x2="931.3" y2="363.4" stroke="#00f" stroke-width="4"/>
<path d="M867.2,341.2L887.0,375.4L847.5,375.4Z" fill="#fff" stroke="#00f" stroke-width="2.4" stroke-linejoin="miter"/>
<text x="944.2" y="382.6" font-family="Liberation Sans, Arial, sans-serif" font-weight="bold" font-size="59.1">PI-3 (HBPDA-ODA-PPZ-10)</text>
</g>
</svg>
</body></html>
